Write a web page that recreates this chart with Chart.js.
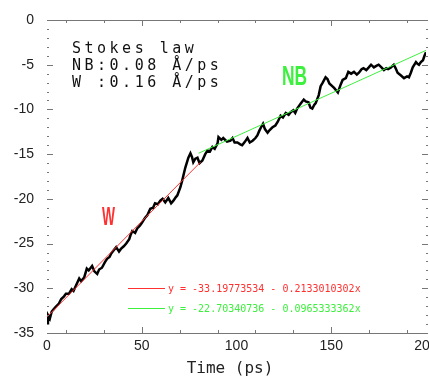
<!DOCTYPE html>
<html>
<head>
<meta charset="utf-8">
<script src="https://cdn.jsdelivr.net/npm/chart.js@4.4.1/dist/chart.umd.min.js"></script>
<style>
  html, body { margin: 0; padding: 0; background: #fff; }
  #wrap { width: 429px; height: 383px; }
</style>
</head>
<body>
<div id="wrap"><canvas id="stokesChart"></canvas></div>
<script>
// thời gian (ps) và độ dời của trajectory
const timePs = [0, 0.5, 1.5, 2.5, 3.7, 5, 6.3, 7.5, 9, 10, 11.6, 13, 14, 15.3, 17, 18, 19.6, 21, 22, 23.8,
  25, 26.5, 27.5, 29, 30.5, 31.7, 33, 33.9, 35, 36.5, 38, 39, 40.5, 41.8, 43.4, 44, 45, 46.5, 47.6, 49,
  50, 51.8, 53, 54.5, 56, 57, 58.5, 59.8, 61, 62.4, 64, 65.5, 66.7, 68, 68.8, 70.4, 71.4, 72.2, 73, 74.6,
  75.7, 76.5, 77.2, 78.3, 79.4, 80.5, 82, 83.5, 84.7, 86, 87.3, 88.5, 90, 90.5, 92, 93, 95, 96.8, 97.9, 99,
  100.5, 102, 103, 104.5, 105.8, 107, 108.5, 110, 111, 112, 112.7, 114, 115, 116.4, 117.5, 119, 120.5, 121.7, 123.3, 124.5,
  126, 127.5, 128.6, 130, 131, 132, 133, 134, 135.5, 136.5, 138, 139, 140, 141, 141.8, 143.4, 144.4, 145.5, 147, 148,
  149, 150.5, 151.5, 153.5, 155, 156, 157.7, 159, 160.5, 162, 163.5, 164.6, 166, 167, 168.5, 169.8, 171, 172.5, 174, 175,
  176.5, 177.8, 179, 180, 181.5, 183, 184, 185, 186.8, 188.4, 190, 191, 192, 193, 194.7, 195.5, 196.3, 197.3, 198.4, 199.2, 200];
const displacement = [-33.9, -33.0, -33.4, -32.6, -32.3, -32.0, -31.7, -31.2, -30.9, -30.6, -30.6, -30.1, -30.3, -29.7, -28.9, -29.2, -28.8, -27.8, -28.0, -27.5,
  -28.1, -28.4, -27.9, -27.7, -27.1, -26.7, -26.5, -26.1, -25.8, -25.4, -25.9, -25.6, -25.3, -25.0, -24.5, -24.1, -23.6, -23.8, -23.3, -23.0,
  -22.7, -22.1, -21.8, -21.1, -21.0, -20.5, -20.6, -20.2, -20.0, -20.4, -19.9, -20.5, -20.2, -19.8, -19.6, -18.7, -17.9, -17.2, -16.5, -15.4,
  -14.9, -15.3, -15.9, -15.5, -15.4, -16.0, -15.7, -15.0, -14.6, -14.7, -14.2, -14.4, -13.8, -13.1, -13.4, -13.2, -13.6, -13.5, -13.2, -13.7,
  -13.7, -13.9, -14.0, -13.6, -13.2, -13.7, -13.5, -13.2, -12.9, -12.4, -12.1, -11.6, -12.2, -12.6, -12.3, -12.0, -11.8, -11.4, -10.7, -10.9,
  -10.4, -10.6, -10.3, -10.1, -10.4, -9.9, -9.6, -9.3, -8.9, -9.1, -9.2, -9.8, -9.9, -9.5, -9.3, -8.4, -7.4, -7.0, -6.4, -6.6,
  -7.1, -7.4, -7.6, -8.1, -7.2, -6.7, -6.5, -5.8, -6.0, -5.8, -6.1, -5.9, -5.5, -5.4, -5.6, -5.3, -5.0, -5.3, -5.1, -5.0,
  -5.3, -5.6, -5.4, -5.5, -5.3, -5.0, -5.4, -5.9, -6.2, -6.5, -6.3, -6.4, -5.9, -5.3, -4.7, -4.9, -5.0, -4.7, -4.5, -4.0, -3.6];

// đường fit (hai đầu mút)
const fitW_t = [0, 81];
const fitW_y = [-33.2, -15.9];
const fitNB_t = [80, 200];
const fitNB_y = [-14.9, -3.4];

const yTicks = [0, -5, -10, -15, -20, -25, -30, -35];
const xTicks = [0, 50, 100, 150, 200];
const xMarks = [10, 30, 50, 70, 90, 110, 130, 150, 170, 190];
const xMajorMarks = [50, 150];

const infoLines = ['Stokes law', 'NB:0.08 Å/ps', 'W :0.16 Å/ps'];
const fitLabels = ['y = -33.19773534 - 0.2133010302x', 'y = -22.70340736 - 0.0965333362x'];

const RED = '#ff3030';
const GREEN = '#3ef03e';
const FRAME = '#777777';

const toPts = (xs, ys) => xs.map((x, i) => ({ x, y: ys[i] }));

// vẽ khung, vạch chia và chữ chú thích
const decorPlugin = {
    id: 'decor',
    afterDraw(chart) {
        const { ctx, chartArea: a, scales: { x, y } } = chart;
        ctx.save();
        ctx.strokeStyle = FRAME;
        ctx.lineWidth = 1;
        // đường trên & dưới
        ctx.beginPath();
        ctx.moveTo(a.left, Math.round(a.top) + 0.5); ctx.lineTo(a.right + 2, Math.round(a.top) + 0.5);
        ctx.moveTo(a.left, Math.round(a.bottom) + 0.5); ctx.lineTo(a.right + 2, Math.round(a.bottom) + 0.5);
        ctx.stroke();
        // vạch trục x
        ctx.beginPath();
        xMarks.forEach(v => {
            const px = Math.round(x.getPixelForValue(v)) + 0.5;
            const len = xMajorMarks.includes(v) ? 6 : 3;
            ctx.moveTo(px, a.bottom); ctx.lineTo(px, a.bottom - len);
            ctx.moveTo(px, a.top); ctx.lineTo(px, a.top + len);
        });
        // vạch trục y (trái và phải)
        for (let v = 0; v >= -35; v--) {
            const py = Math.round(y.getPixelForValue(v)) + 0.5;
            const major = v % 5 === 0;
            const len = major ? 6 : 2;
            ctx.moveTo(a.left, py); ctx.lineTo(a.left + len, py);
            ctx.moveTo(a.right + 2, py); ctx.lineTo(a.right + 2 - len, py);
        }
        ctx.stroke();

        // chữ thông tin
        ctx.fillStyle = '#111';
        ctx.font = '15px "DejaVu Sans Mono"';
        ctx.letterSpacing = '3.5px';
        ctx.textBaseline = 'alphabetic';
        ctx.textAlign = 'left';
        infoLines.forEach((t, i) => ctx.fillText(t, 72, 53 + i * 17));
        ctx.letterSpacing = '0px';

        // nhãn NB và W
        ctx.font = 'bold 28px "Liberation Sans"';
        ctx.fillStyle = GREEN;
        ctx.save(); ctx.translate(282, 85); ctx.scale(0.62, 1); ctx.fillText('NB', 0, 0); ctx.restore();
        ctx.fillStyle = RED;
        ctx.font = 'bold 25px "Liberation Sans"';
        ctx.save(); ctx.translate(102, 225); ctx.scale(0.55, 1); ctx.fillText('W', 0, 0); ctx.restore();

        // chú thích các đường fit
        [RED, GREEN].forEach((c, i) => {
            const ly = 288 + i * 20;
            ctx.strokeStyle = c;
            ctx.beginPath(); ctx.moveTo(128, ly + 0.5); ctx.lineTo(165, ly + 0.5); ctx.stroke();
            ctx.fillStyle = c;
            ctx.font = '10px "DejaVu Sans Mono"';
            ctx.textBaseline = 'middle';
            ctx.fillText(fitLabels[i], 168, ly + 1);
        });

        // tiêu đề trục x
        ctx.fillStyle = '#222';
        ctx.font = '16px "DejaVu Sans Mono"';
        ctx.textAlign = 'center';
        ctx.textBaseline = 'middle';
        ctx.fillText('Time (ps)', 230, 369);
        ctx.restore();
    }
};

document.addEventListener('DOMContentLoaded', () => {
    const ctx = document.getElementById('stokesChart');
    new Chart(ctx.getContext('2d'), {
        type: 'scatter',
        data: {
            datasets: [
                {
                    label: 'W fit',
                    data: toPts(fitW_t, fitW_y),
                    showLine: true,
                    borderColor: RED,
                    borderWidth: 1,
                    pointRadius: 0,
                    order: 0
                },
                {
                    label: 'NB fit',
                    data: toPts(fitNB_t, fitNB_y),
                    showLine: true,
                    borderColor: GREEN,
                    borderWidth: 1,
                    pointRadius: 0,
                    order: 0
                },
                {
                    label: 'trajectory',
                    data: toPts(timePs, displacement),
                    showLine: true,
                    borderColor: '#000',
                    borderWidth: 2.5,
                    pointRadius: 0,
                    tension: 0,
                    order: 1
                }
            ]
        },
        options: {
            responsive: true,
            maintainAspectRatio: false,
            animation: false,
            events: [],
            layout: { padding: { top: 20, right: 3, left: 0, bottom: 0 } },
            scales: {
                x: {
                    type: 'linear',
                    min: 0, max: 200,
                    afterBuildTicks: s => { s.ticks = xTicks.map(v => ({ value: v })); },
                    afterFit: s => { s.height = 50; s.paddingLeft = 0; s.paddingRight = 0; },
                    grid: { display: false, drawTicks: false },
                    border: { display: false },
                    ticks: {
                        padding: 5,
                        maxRotation: 0,
                        autoSkip: false,
                        color: '#222',
                        font: { family: 'Liberation Sans', size: 14 }
                    }
                },
                y: {
                    type: 'linear',
                    min: -35, max: 0,
                    afterBuildTicks: s => { s.ticks = yTicks.map(v => ({ value: v })); },
                    afterFit: s => { s.width = 47; s.paddingTop = 0; s.paddingBottom = 0; },
                    grid: { display: false, drawTicks: false },
                    border: { display: false },
                    ticks: {
                        padding: 13,
                        color: '#222',
                        font: { family: 'Liberation Sans', size: 14 }
                    }
                }
            },
            plugins: {
                legend: { display: false },
                tooltip: { enabled: false }
            }
        },
        plugins: [decorPlugin]
    });
});
</script>
</body>
</html>
